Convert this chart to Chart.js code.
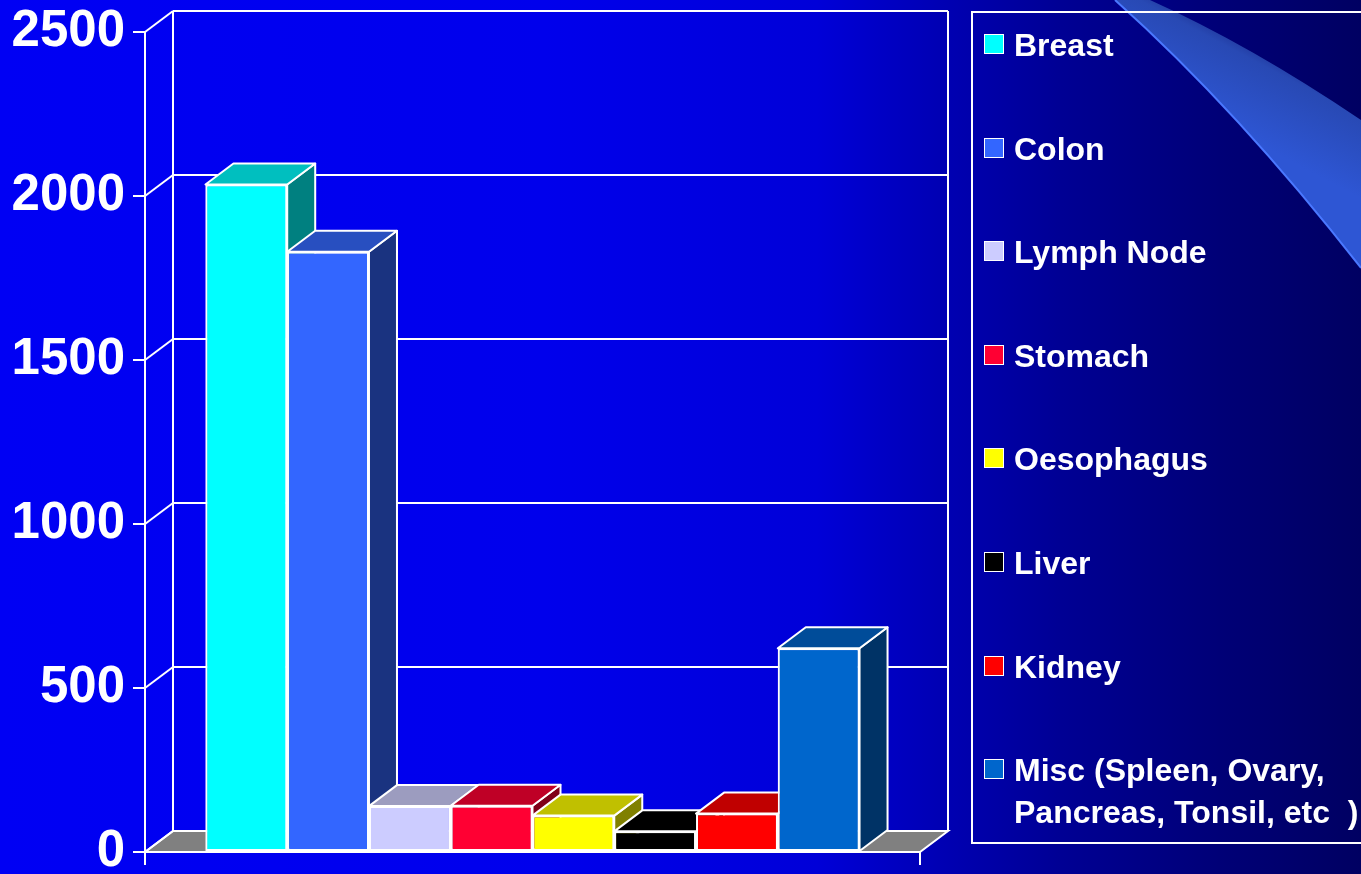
<!DOCTYPE html>
<html>
<head>
<meta charset="utf-8">
<script src="https://cdn.jsdelivr.net/npm/chart.js@4.4.0/dist/chart.umd.min.js"></script>
<style>
  html, body { margin: 0; padding: 0; overflow: hidden; }
  body {
    width: 1361px; height: 874px; position: relative;
    background: linear-gradient(to right, #0000f4 0%, #0000ec 40%, #0000d8 60%, #0000b4 69%, #000094 78%, #000076 90%, #000062 100%);
    font-family: "Liberation Sans", Arial, sans-serif;
  }
  #chart { position: absolute; left: 0; top: 0; }
  #legend {
    position: absolute; left: 971px; top: 11px; width: 420px; height: 833px;
    border: 2px solid #fff; box-sizing: border-box;
  }
  .item { position: absolute; left: 11px; display: flex; align-items: flex-start; }
  .swatch { width: 18px; height: 18px; border: 1px solid #fff; margin-top: 10px; flex: none; }
  .name {
    margin-left: 10px; width: 350px; color: #fff; font-weight: bold; font-size: 32px;
    line-height: 42px; white-space: pre-wrap;
  }
</style>
</head>
<body>
<canvas id="chart" width="1361" height="874"></canvas>
<div id="legend"></div>
<script>
// data
const categories = ['Breast', 'Colon', 'Lymph Node', 'Stomach', 'Oesophagus', 'Liver', 'Kidney', 'Misc (Spleen, Ovary, Pancreas, Tonsil, etc  )'];
const values = [2035, 1830, 140, 141, 111, 63, 117, 621];
const yTicks = [0, 500, 1000, 1500, 2000, 2500];

// colours of the three visible faces of each bar
const frontColors = ['#00ffff', '#3366ff', '#ccccff', '#ff0033', '#ffff00', '#000000', '#ff0000', '#0066cc'];
const topColors = ['#00bfbf', '#284fc0', '#9c9cbf', '#bf0026', '#c0c000', '#000000', '#c00000', '#004c99'];
const sideColors = ['#008080', '#1a3380', '#666680', '#800019', '#808000', '#000000', '#800000', '#003366'];

const DX = 28, DY = -21; // depth of the 3d box

function poly(ctx, pts, fill) {
    ctx.beginPath();
    ctx.moveTo(pts[0][0], pts[0][1]);
    for (let i = 1; i < pts.length; i++) ctx.lineTo(pts[i][0], pts[i][1]);
    ctx.closePath();
    if (fill) { ctx.fillStyle = fill; ctx.fill(); }
    ctx.stroke();
}

function line(ctx, x1, y1, x2, y2) {
    ctx.beginPath();
    ctx.moveTo(x1, y1);
    ctx.lineTo(x2, y2);
    ctx.stroke();
}

const box3d = {
    id: 'box3d',
    beforeDraw(chart) {
        // the light blue swoosh in the top right corner
        const ctx = chart.ctx;
        ctx.save();
        const g = ctx.createLinearGradient(1250, 140, 1295, 55);
        g.addColorStop(0, '#2e56d4');
        g.addColorStop(0.75, '#2849b4');
        g.addColorStop(1, '#1a2a8a');
        ctx.beginPath();
        ctx.moveTo(1115, 0);
        ctx.quadraticCurveTo(1238, 110, 1361, 268);
        ctx.lineTo(1361, 120);
        ctx.quadraticCurveTo(1250, 45, 1150, 0);
        ctx.closePath();
        ctx.fillStyle = g;
        ctx.fill();
        ctx.beginPath();
        ctx.moveTo(1115, 0);
        ctx.quadraticCurveTo(1238, 110, 1361, 268);
        ctx.strokeStyle = '#4a78ff';
        ctx.lineWidth = 2;
        ctx.stroke();
        ctx.restore();
    },
    beforeDatasetsDraw(chart) {
        const { ctx, chartArea: a, scales: { y } } = chart;
        ctx.save();
        ctx.strokeStyle = '#ffffff';
        ctx.lineWidth = 2;
        // floor
        poly(ctx, [[a.left, a.bottom], [a.right, a.bottom], [a.right + DX, a.bottom + DY], [a.left + DX, a.bottom + DY]], '#808080');
        // back wall
        line(ctx, a.left + DX, a.top + DY, a.left + DX, a.bottom + DY);
        line(ctx, a.right + DX, a.top + DY, a.right + DX, a.bottom + DY);
        y.ticks.forEach(t => {
            const py = y.getPixelForValue(t.value);
            line(ctx, a.left, py, a.left + DX, py + DY);
            line(ctx, a.left + DX, py + DY, a.right + DX, py + DY);
        });
        ctx.restore();
    },
    afterDatasetsDraw(chart) {
        const ctx = chart.ctx;
        ctx.save();
        ctx.strokeStyle = '#ffffff';
        ctx.lineWidth = 2;
        ctx.lineJoin = 'round';
        chart.data.datasets.forEach((ds, i) => {
            const bar = chart.getDatasetMeta(i).data[0];
            const { x, y, base, width } = bar.getProps(['x', 'y', 'base', 'width'], true);
            const l = x - width / 2, r = x + width / 2;
            poly(ctx, [[r, y], [r + DX, y + DY], [r + DX, base + DY], [r, base]], sideColors[i]);
            poly(ctx, [[l, y], [r, y], [r + DX, y + DY], [l + DX, y + DY]], topColors[i]);
            bar.draw(ctx); // front face again, on top of the left neighbour
        });
        ctx.restore();
    }
};

const datasets = categories.map((name, i) => ({
    label: name,
    data: [values[i]],
    backgroundColor: frontColors[i],
    borderColor: '#ffffff',
    borderWidth: 2,
    borderSkipped: false
}));

new Chart(document.getElementById('chart'), {
    type: 'bar',
    data: { labels: [''], datasets: datasets },
    options: {
        responsive: false,
        animation: false,
        devicePixelRatio: 1,
        barPercentage: 1,
        categoryPercentage: 0.844,
        layout: { padding: { left: 0, right: 441, top: 32, bottom: 0 } },
        plugins: { legend: { display: false }, tooltip: { enabled: false } },
        scales: {
            x: {
                ticks: { display: false },
                grid: { drawOnChartArea: false, tickLength: 13, color: '#ffffff', lineWidth: 2 },
                border: { color: '#ffffff', width: 2 },
                afterFit(s) { s.height = 22; }
            },
            y: {
                min: yTicks[0],
                max: yTicks[yTicks.length - 1],
                ticks: {
                    stepSize: yTicks[1] - yTicks[0],
                    color: '#ffffff',
                    padding: 8,
                    callback: v => String(v),
                    font: { family: "'Liberation Sans', Arial, sans-serif", size: 51, weight: 'bold' }
                },
                grid: { drawOnChartArea: false, tickLength: 12, color: '#ffffff', lineWidth: 2 },
                border: { color: '#ffffff', width: 2 },
                afterFit(s) { s.width = 145; s.paddingTop = 0; s.paddingBottom = 0; }
            }
        }
    },
    plugins: [box3d]
});

// legend on the right
const legend = document.getElementById('legend');
categories.forEach((name, i) => {
    const item = document.createElement('div');
    item.className = 'item';
    item.style.top = (45 + i * 103.6 - 34) + 'px';
    const sw = document.createElement('div');
    sw.className = 'swatch';
    sw.style.background = frontColors[i];
    const txt = document.createElement('div');
    txt.className = 'name';
    txt.textContent = name;
    item.appendChild(sw);
    item.appendChild(txt);
    legend.appendChild(item);
});
</script>
</body>
</html>
